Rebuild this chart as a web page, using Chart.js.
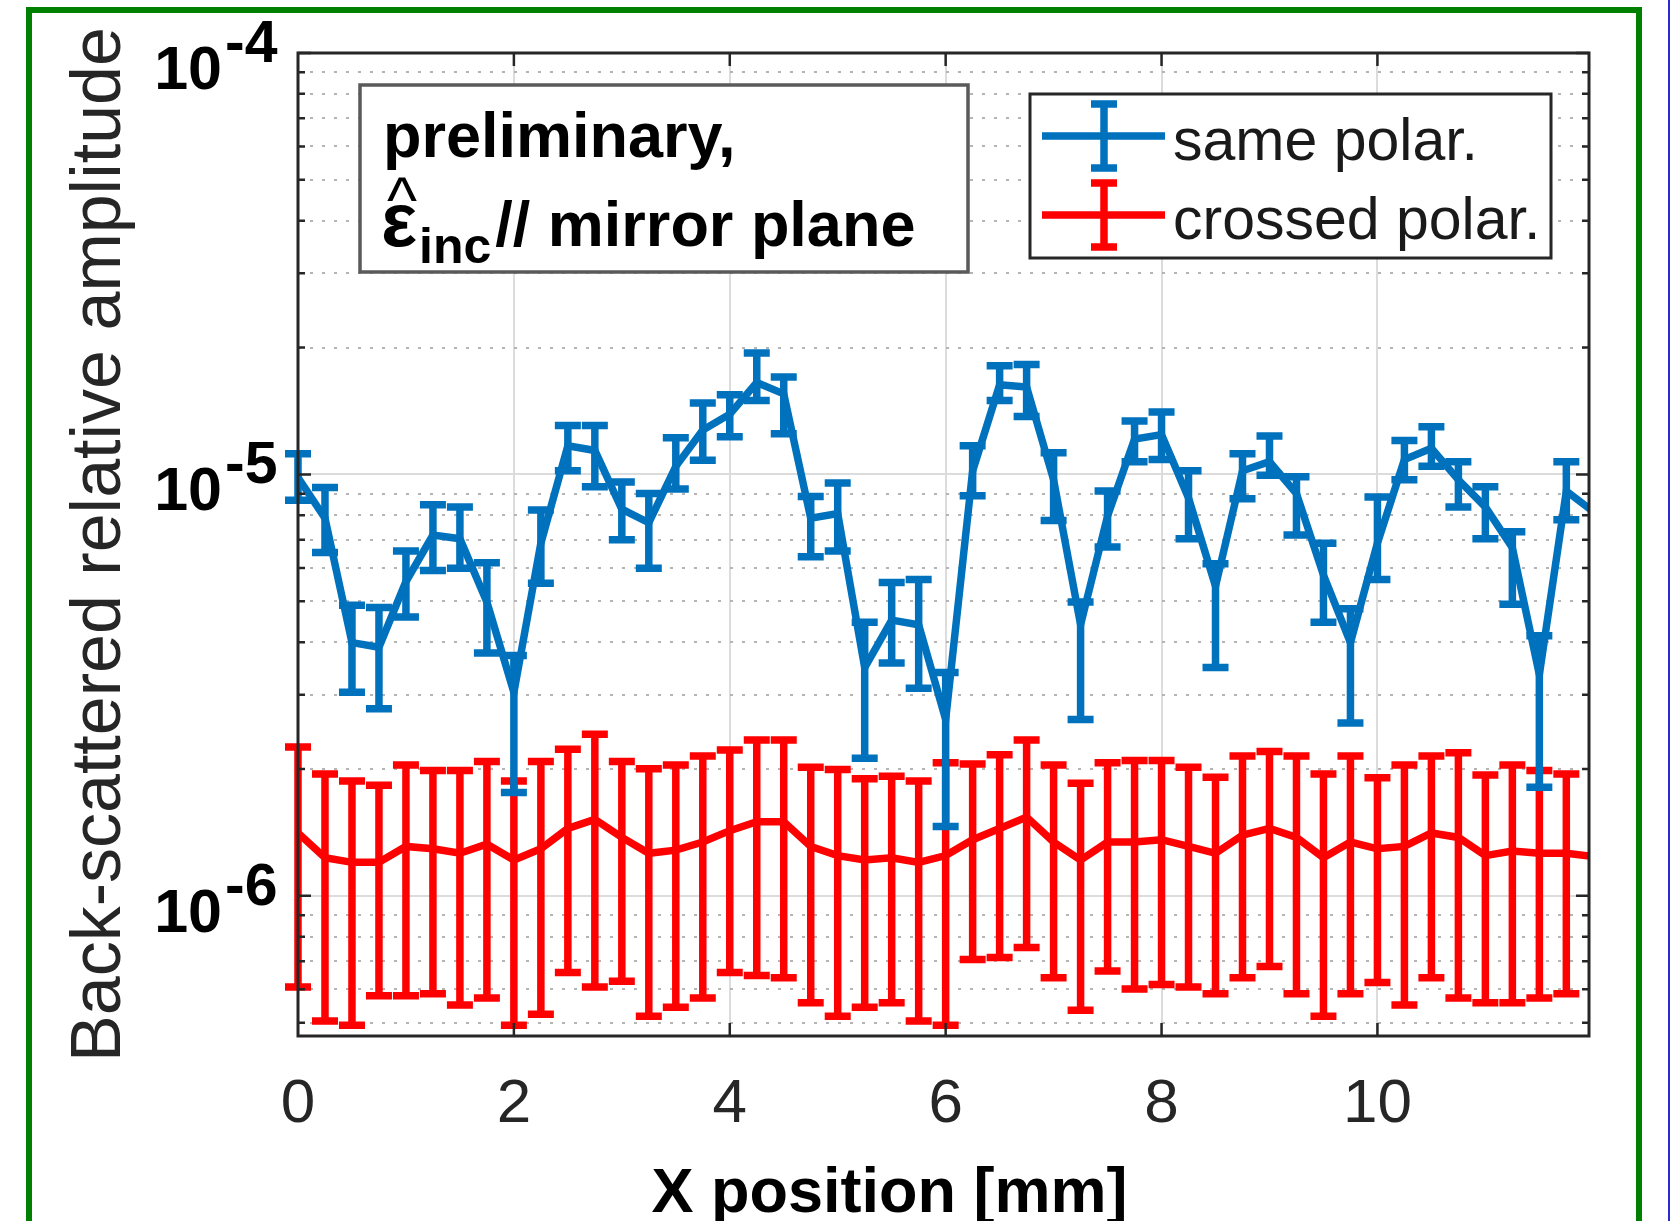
<!DOCTYPE html>
<html>
<head>
<meta charset="utf-8">
<title>Back-scattered relative amplitude vs X position</title>
<script src="https://cdn.jsdelivr.net/npm/chart.js@4.4.1/dist/chart.umd.min.js"></script>
<style>
  html, body { margin: 0; padding: 0; background: #fff; }
  #wrap { position: relative; width: 1670px; height: 1221px; overflow: hidden; }
  #frame { position: absolute; left: 26px; top: 7px; width: 1604px; height: 1300px; border: 6px solid #008000; }
  #edge { position: absolute; left: 1668px; top: 0; width: 2px; height: 1221px; background: #2a2ad0; }
  #chart { position: absolute; left: 0; top: 0; }
</style>
</head>
<body>
<div id="wrap">
  <div id="frame"></div>
  <div id="edge"></div>
  <canvas id="chart" width="1670" height="1221"></canvas>
</div>
<script>
// X positions [mm]
const xPos = [0, 0.25, 0.5, 0.75, 1, 1.25, 1.5, 1.75, 2, 2.25, 2.5, 2.75,
              3, 3.25, 3.5, 3.75, 4, 4.25, 4.5, 4.75, 5, 5.25, 5.5, 5.75,
              6, 6.25, 6.5, 6.75, 7, 7.25, 7.5, 7.75, 8, 8.25, 8.5, 8.75,
              9, 9.25, 9.5, 9.75, 10, 10.25, 10.5, 10.75, 11, 11.25, 11.5, 11.75, 12];

// amplitudes in units of 1e-6
const sameAmp  = [9.83, 7.87, 3.99, 3.89, 5.57, 7.18, 7.04, 4.98, 3.04, 6.87, 11.69, 11.40,
                  8.27, 7.68, 10.45, 12.74, 13.9, 16.52, 15.53, 7.87, 8.07, 3.48, 4.51, 4.40,
                  2.62, 10.2, 16.32, 16.12, 9.71, 4.40, 7.97, 12.13, 12.43, 8.79, 5.43, 10.2,
                  10.72, 9.01, 5.77, 3.99, 6.87, 10.85, 11.54, 9.71, 8.37, 6.70, 3.35, 9.13, 8.16];
const sameLow  = [8.69, 6.53, 3.04, 2.78, 4.59, 5.92, 5.99, 3.77, 1.76, 5.52, 10.2, 9.35,
                  7.00, 5.99, 9.24, 10.8, 12.28, 14.97, 12.49, 6.38, 6.58, 2.12, 3.57, 3.11,
                  1.46, 8.90, 14.97, 13.72, 7.77, 2.62, 6.73, 10.72, 10.85, 7.04, 3.48, 8.75,
                  9.95, 7.18, 4.46, 2.57, 5.63, 9.71, 10.45, 8.37, 7.04, 4.92, 1.81, 7.81, 6.87];
const sameHigh = [11.2, 9.31, 4.89, 4.83, 6.58, 8.47, 8.37, 6.17, 3.72, 8.23, 13.06, 13.06,
                  9.59, 9.01, 12.22, 14.78, 15.45, 19.41, 17.02, 8.86, 9.54, 4.46, 5.54, 5.63,
                  3.39, 11.69, 18.11, 18.24, 11.26, 4.98, 9.13, 13.39, 14.07, 10.2, 6.14, 11.2,
                  12.34, 9.88, 6.87, 4.80, 8.84, 12.04, 12.97, 10.72, 9.35, 7.31, 4.14, 10.72, 9.47];

const crossAmp  = [1.410, 1.231, 1.201, 1.201, 1.310, 1.293, 1.262, 1.326, 1.216, 1.293, 1.445, 1.519,
                   1.376, 1.262, 1.284, 1.342, 1.428, 1.500, 1.500, 1.310, 1.246, 1.216, 1.231, 1.201,
                   1.246, 1.359, 1.445, 1.538, 1.342, 1.216, 1.342, 1.342, 1.359, 1.310, 1.262, 1.393,
                   1.445, 1.376, 1.231, 1.342, 1.293, 1.310, 1.410, 1.376, 1.246, 1.277, 1.262, 1.262, 1.240];
const crossLow  = [0.608, 0.505, 0.493, 0.579, 0.579, 0.586, 0.551, 0.572, 0.493, 0.524, 0.658, 0.608,
                   0.627, 0.518, 0.544, 0.572, 0.658, 0.647, 0.639, 0.558, 0.518, 0.544, 0.558, 0.505,
                   0.493, 0.706, 0.714, 0.754, 0.639, 0.535, 0.663, 0.601, 0.616, 0.608, 0.586, 0.639,
                   0.680, 0.586, 0.518, 0.586, 0.623, 0.551, 0.639, 0.572, 0.558, 0.558, 0.572, 0.586, 0.565];
const crossHigh = [2.256, 1.945, 1.874, 1.829, 2.044, 1.984, 1.984, 2.084, 1.874, 2.084, 2.228, 2.418,
                   2.084, 2.004, 2.044, 2.147, 2.218, 2.342, 2.342, 2.018, 1.994, 1.897, 1.921, 1.874,
                   2.069, 2.054, 2.163, 2.342, 2.044, 1.851, 2.069, 2.095, 2.095, 2.018, 1.911, 2.147,
                   2.201, 2.147, 1.945, 2.147, 1.907, 2.044, 2.147, 2.185, 1.936, 2.044, 1.984, 1.945, 1.970];

const xTicks = [0, 2, 4, 6, 8, 10];
const yDecades = [1e-7, 1e-6, 1e-5, 1e-4];
const yMantissas = [1, 2, 3, 4, 5, 6, 7, 8, 9];
const yLabelDecades = [1e-6, 1e-5, 1e-4];

const UNIT = 1e-6;
const BLUE = '#0072BD';
const RED = '#FF0000';
const FONT = '"Liberation Sans", Arial, Helvetica, sans-serif';
const LW = 7.5;
const CAP = 13;
const X_MIN = 0, X_MAX = 11.96, Y_MIN = 4.65e-7, Y_MAX = 1e-4;

const isDecade = v => Math.abs(Math.log10(v) - Math.round(Math.log10(v))) < 1e-9;

const yTickVals = [];
yDecades.forEach(d => yMantissas.forEach(m => {
    const v = m * d;
    if (v >= Y_MIN * 0.999 && v <= Y_MAX * 1.001) yTickVals.push(v);
}));

const toPoints = amp => xPos.map((x, i) => ({ x: x, y: amp[i] * UNIT }));

// vertical error bars with caps, drawn right after each dataset's line
const errorBars = {
    id: "errorBars",
    afterDatasetDraw(chart, args) {
        const ds = chart.data.datasets[args.index];
        if (!ds.errLow) return;
        const { ctx, scales: { x, y } } = chart;
        ctx.save();
        ctx.strokeStyle = ds.borderColor;
        ctx.lineWidth = LW;
        ctx.lineCap = "butt";
        ctx.beginPath();
        ds.data.forEach((p, i) => {
            if (p.x < X_MIN || p.x > X_MAX) return;
            const px = x.getPixelForValue(p.x);
            const y0 = y.getPixelForValue(ds.errLow[i]);
            const y1 = y.getPixelForValue(ds.errHigh[i]);
            ctx.moveTo(px, y0); ctx.lineTo(px, y1);
            ctx.moveTo(px - CAP, y0); ctx.lineTo(px + CAP, y0);
            ctx.moveTo(px - CAP, y1); ctx.lineTo(px + CAP, y1);
        });
        ctx.stroke();
        ctx.restore();
    }
};

// box, inward ticks, y labels with exponents, x title
const matlabAxes = {
    id: "matlabAxes",
    afterDatasetsDraw(chart) {
        const { ctx, chartArea: a, scales: { x, y } } = chart;
        ctx.save();
        ctx.strokeStyle = "#262626";
        ctx.lineWidth = 2.5;
        ctx.beginPath();
        x.ticks.forEach(t => {
            const px = x.getPixelForValue(t.value);
            if (px <= a.left + 2) return;
            ctx.moveTo(px, a.bottom); ctx.lineTo(px, a.bottom - 13);
            ctx.moveTo(px, a.top); ctx.lineTo(px, a.top + 13);
        });
        y.ticks.forEach(t => {
            const py = y.getPixelForValue(t.value);
            const len = isDecade(t.value) ? 13 : 7;
            ctx.moveTo(a.left, py); ctx.lineTo(a.left + len, py);
            ctx.moveTo(a.right, py); ctx.lineTo(a.right - len, py);
        });
        ctx.stroke();
        ctx.lineWidth = 3;
        ctx.strokeRect(a.left, a.top, a.right - a.left, a.bottom - a.top);

        ctx.fillStyle = "#000";
        ctx.textBaseline = "alphabetic";
        yLabelDecades.forEach(v => {
            const py = y.getPixelForValue(v);
            const base = py + 36;
            ctx.font = "bold 61px " + FONT;
            ctx.textAlign = "right";
            ctx.fillText("10", a.left - 76, base);
            ctx.font = "bold 59px " + FONT;
            ctx.textAlign = "left";
            ctx.fillText(String(Math.round(Math.log10(v))), a.left - 73, base - 27);
        });

        ctx.font = "bold 63px " + FONT;
        ctx.textAlign = "center";
        ctx.fillText("X position [mm]", (a.left + a.right) / 2 - 54, a.bottom + 176);
        ctx.restore();
    }
};

// text box and legend
const boxes = {
    id: "boxes",
    afterDraw(chart) {
        const ctx = chart.ctx;
        ctx.save();

        // annotation box
        const bx = 360, by = 85, bw = 608, bh = 187;
        ctx.fillStyle = "#fff";
        ctx.fillRect(bx, by, bw, bh);
        ctx.strokeStyle = "#5a5a5a";
        ctx.lineWidth = 3.5;
        ctx.strokeRect(bx, by, bw, bh);

        ctx.fillStyle = "#000";
        ctx.textAlign = "left";
        ctx.textBaseline = "alphabetic";
        ctx.font = "bold 63px " + FONT;
        ctx.fillText("preliminary,", bx + 23, by + 72);

        const base2 = by + 161;
        const epsX = bx + 21;
        ctx.font = "bold 76px " + FONT;
        ctx.fillText("ε", epsX, base2);
        const epsW = ctx.measureText("ε").width;
        ctx.font = "64px " + FONT;
        ctx.textAlign = "center";
        ctx.fillText("^", epsX + epsW / 2 + 3, base2 - 24);
        ctx.textAlign = "left";
        ctx.font = "bold 50px " + FONT;
        const incX = epsX + epsW + 2;
        ctx.fillText("inc", incX, base2 + 17);
        const incW = ctx.measureText("inc").width;
        ctx.font = "bold 63px " + FONT;
        ctx.fillText("// mirror plane", incX + incW + 4, base2);

        // legend
        const lx = 1030, ly = 94, lw = 521, lh = 164;
        ctx.fillStyle = "#fff";
        ctx.fillRect(lx, ly, lw, lh);
        ctx.strokeStyle = "#262626";
        ctx.lineWidth = 3;
        ctx.strokeRect(lx, ly, lw, lh);

        const rows = [ly + 42, ly + 121];
        chart.data.datasets.forEach((ds, i) => {
            const cy = rows[i];
            const mx = lx + 74;
            ctx.strokeStyle = ds.borderColor;
            ctx.lineWidth = LW;
            ctx.beginPath();
            ctx.moveTo(lx + 12, cy); ctx.lineTo(lx + 135, cy);
            ctx.moveTo(mx, cy - 32); ctx.lineTo(mx, cy + 32);
            ctx.moveTo(mx - CAP, cy - 32); ctx.lineTo(mx + CAP, cy - 32);
            ctx.moveTo(mx - CAP, cy + 32); ctx.lineTo(mx + CAP, cy + 32);
            ctx.stroke();
            ctx.fillStyle = "#1a1a1a";
            ctx.font = "59px " + FONT;
            ctx.fillText(ds.label, lx + 143, cy + 24);
        });
        ctx.restore();
    }
};

new Chart(document.getElementById("chart"), {
    type: "line",
    data: {
        datasets: [
            {
                label: "same polar.",
                data: toPoints(sameAmp),
                errLow: sameLow.map(v => v * UNIT),
                errHigh: sameHigh.map(v => v * UNIT),
                borderColor: BLUE,
                borderWidth: LW,
                pointRadius: 0,
                tension: 0
            },
            {
                label: "crossed polar.",
                data: toPoints(crossAmp),
                errLow: crossLow.map(v => v * UNIT),
                errHigh: crossHigh.map(v => v * UNIT),
                borderColor: RED,
                borderWidth: LW,
                pointRadius: 0,
                tension: 0
            }
        ]
    },
    options: {
        responsive: false,
        animation: false,
        devicePixelRatio: 1,
        layout: { padding: { left: 40, top: 53, right: 81, bottom: 0 } },
        plugins: { legend: { display: false }, tooltip: { enabled: false } },
        scales: {
            x: {
                type: "linear",
                min: X_MIN,
                max: X_MAX,
                afterBuildTicks: s => { s.ticks = xTicks.map(v => ({ value: v })); },
                afterFit: s => { s.height = 185; },
                grid: { color: "#dcdcdc", lineWidth: 2, drawTicks: false },
                border: { display: false },
                ticks: { padding: 32, color: "#262626", font: { family: FONT, size: 62 }, maxRotation: 0, autoSkip: false }
            },
            y: {
                type: "logarithmic",
                min: Y_MIN,
                max: Y_MAX,
                afterBuildTicks: s => { s.ticks = yTickVals.map(v => ({ value: v })); },
                afterFit: s => { s.width = 258; },
                grid: {
                    drawTicks: false,
                    lineWidth: 2,
                    color: c => (c.tick && !isDecade(c.tick.value)) ? "#b4b4b4" : "#dcdcdc"
                },
                border: {
                    display: false,
                    dash: c => (c.tick && !isDecade(c.tick.value)) ? [3, 9] : []
                },
                ticks: { display: false },
                title: {
                    display: true,
                    text: "Back-scattered relative amplitude",
                    color: "#262626",
                    font: { family: FONT, size: 70 },
                    padding: { top: 19, bottom: 0 }
                }
            }
        }
    },
    plugins: [errorBars, matlabAxes, boxes]
});
</script>
</body>
</html>
